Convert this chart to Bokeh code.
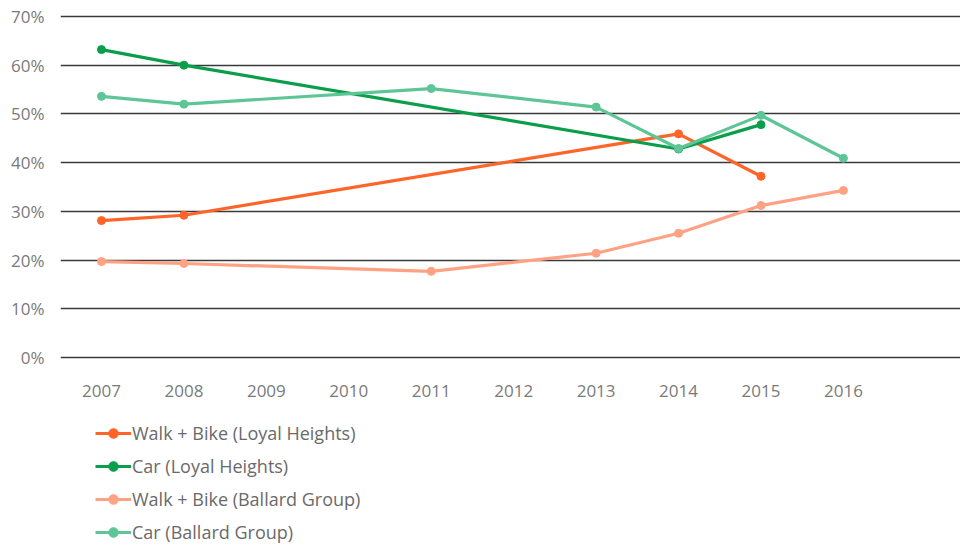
from bokeh.plotting import figure
from bokeh.layouts import column
from bokeh.models import Range1d, FixedTicker, Legend, LegendItem, CustomJSTickFormatter
from bokeh.embed import file_html
from bokeh.resources import INLINE

years = [2007, 2008, 2009, 2010, 2011, 2012, 2013, 2014, 2015, 2016]
y_ticks = [0, 10, 20, 30, 40, 50, 60, 70]

wb_loyal_x = [2007, 2008, 2014, 2015]
wb_loyal_y = [28.1, 29.2, 45.9, 37.2]

car_loyal_x = [2007, 2008, 2014, 2015]
car_loyal_y = [63.2, 60.0, 42.8, 47.8]

wb_ballard_x = [2007, 2008, 2011, 2013, 2014, 2015, 2016]
wb_ballard_y = [19.7, 19.3, 17.7, 21.4, 25.5, 31.2, 34.3]

car_ballard_x = [2007, 2008, 2011, 2013, 2014, 2015, 2016]
car_ballard_y = [53.6, 52.0, 55.2, 51.4, 42.9, 49.7, 40.9]

series = [
    ("Walk + Bike (Loyal Heights)", wb_loyal_x, wb_loyal_y, "#FF6428"),
    ("Car (Loyal Heights)", car_loyal_x, car_loyal_y, "#0A9E4B"),
    ("Walk + Bike (Ballard Group)", wb_ballard_x, wb_ballard_y, "#FFA283"),
    ("Car (Ballard Group)", car_ballard_x, car_ballard_y, "#5EC696"),
]

FONT = "Open Sans"

p = figure(width=960, height=400, output_backend="svg", toolbar_location=None,
           x_range=Range1d(2006.503, 2017.42), y_range=Range1d(-0.4, 70.4),
           min_border_left=60, min_border_top=14, min_border_right=0, min_border_bottom=41)
p.outline_line_color = None
p.background_fill_color = "white"

p.xgrid.grid_line_color = None
p.ygrid.grid_line_color = "#3a3a3a"
p.ygrid.grid_line_width = 1.4
p.ygrid.ticker = FixedTicker(ticks=y_ticks)

p.yaxis.ticker = FixedTicker(ticks=y_ticks)
p.yaxis.formatter = CustomJSTickFormatter(code="return tick + '%';")
p.xaxis.ticker = FixedTicker(ticks=years)
p.xaxis.formatter = CustomJSTickFormatter(code="return String(tick);")
for ax in (p.xaxis[0], p.yaxis[0]):
    ax.axis_line_color = None
    ax.major_tick_line_color = None
    ax.minor_tick_line_color = None
    ax.major_label_text_font = FONT
    ax.major_label_text_font_size = "17px"
    ax.major_label_text_color = "#7a7a7a"
p.yaxis.major_label_standoff = 10
p.xaxis.major_label_standoff = 19

for label, xs, ys, color in series:
    p.line(xs, ys, line_color=color, line_width=3.2)
    p.scatter(xs, ys, size=8, fill_color=color, line_color=color)

# legend panel below the chart
p2 = figure(width=960, height=146, output_backend="svg", toolbar_location=None,
            x_range=Range1d(0, 1), y_range=Range1d(0, 1),
            min_border_left=60, min_border_top=0, min_border_right=0, min_border_bottom=0)
p2.axis.visible = False
p2.grid.visible = False
p2.outline_line_color = None

items = []
for label, xs, ys, color in series:
    r1 = p2.line([-5, -4], [-5, -4], line_color=color, line_width=3.2)
    r2 = p2.scatter([-5], [-5], size=6.5, fill_color=color, line_color=color)
    items.append(LegendItem(label=label, renderers=[r1, r2]))

legend = Legend(items=items, location=(35, 2), orientation="vertical")
legend.label_text_font = FONT
legend.label_text_font_size = "18px"
legend.label_text_color = "#6a6a6a"
legend.glyph_width = 36
legend.glyph_height = 24
legend.label_height = 24
legend.spacing = 9
legend.label_standoff = 1
legend.padding = 0
legend.margin = 0
legend.border_line_color = None
legend.background_fill_alpha = 0
p2.add_layout(legend, "center")

layout = column(p, p2, spacing=0)
open("out.html", "w").write(file_html(layout, INLINE))
